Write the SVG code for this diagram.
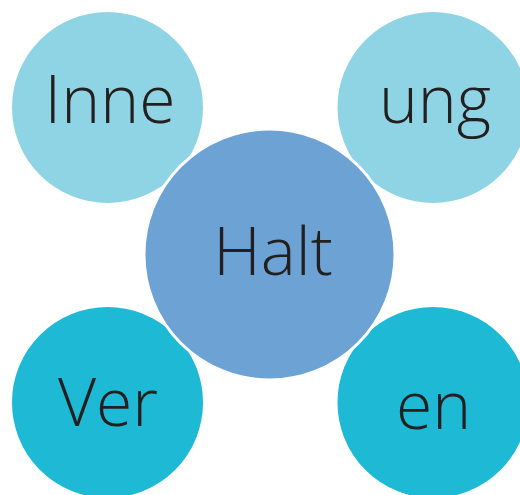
<svg xmlns="http://www.w3.org/2000/svg" width="520" height="495" viewBox="0 0 520 495">
<style>
.c{stroke:#ffffff;stroke-width:3}
.top{fill:#8fd4e4}
.mid{fill:#6ca2d4}
.bot{fill:#1db9d5}
text{font-family:"Open Sans","Noto Sans","Liberation Sans",sans-serif;font-weight:300;font-size:66px;fill:#231f20;text-anchor:middle}
</style>
<rect width="520" height="495" fill="#ffffff"/>
<g id="connectors"></g>
<g id="node-inne"><circle class="c top" cx="107.5" cy="107.5" r="97"/><text x="110" y="122.5">Inne</text></g>
<g id="node-ung"><circle class="c top" cx="433" cy="107.5" r="97"/><text x="435" y="122.5">ung</text></g>
<g id="node-ver"><circle class="c bot" cx="107.5" cy="402.5" r="97"/><text x="108" y="426">Ver</text></g>
<g id="node-en"><circle class="c bot" cx="433" cy="402.5" r="97"/><text x="433.5" y="428.5">en</text></g>
<g id="node-halt"><circle class="c mid" cx="269.5" cy="254.5" r="125.5"/><text x="273" y="274.5">Halt</text></g>
</svg>
